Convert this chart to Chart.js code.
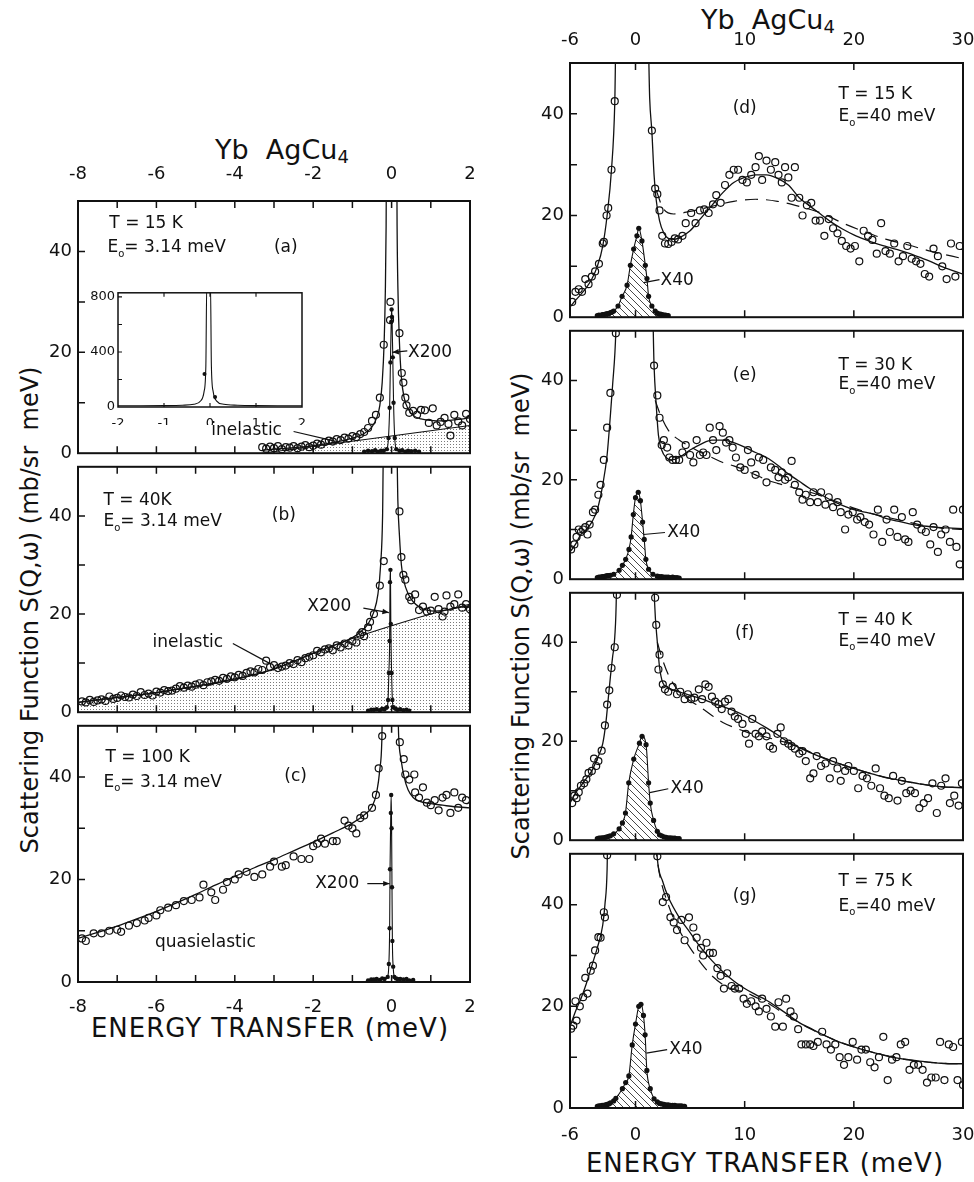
<!DOCTYPE html>
<html lang="en">
<head>
<meta charset="UTF-8">
<title>Yb AgCu4 scattering function</title>
<script src="https://cdn.jsdelivr.net/npm/chart.js"></script>
<style>
  body { margin: 0; background: #fff; }
  #fig { position: relative; width: 974px; height: 1182px; background: #fff; font-family: "DejaVu Sans", sans-serif; color: #111; overflow: hidden; }
  #fig canvas { position: absolute; }
  .lbl { position: absolute; white-space: nowrap; text-align: center; line-height: 1; }
  .lbl sub { font-size: 18px; vertical-align: -4px; }
  .ytitle { position: absolute; white-space: nowrap; font-size: 24px; line-height: 1; transform: translate(-50%, -50%) rotate(-90deg); }
</style>
</head>
<body>
<div id="fig">
  <div class="lbl" style="left:182px; top:136px; width:200px; font-size:27px;">Yb&nbsp; AgCu<sub>4</sub></div>
  <div class="lbl" style="left:668px; top:6px; width:200px; font-size:27px;">Yb&nbsp; AgCu<sub>4</sub></div>
  <div class="lbl" style="left:70px; top:1015px; width:400px; font-size:26px; letter-spacing:1px;">ENERGY TRANSFER (meV)</div>
  <div class="lbl" style="left:565px; top:1150px; width:400px; font-size:26px; letter-spacing:1px;">ENERGY TRANSFER (meV)</div>
  <div class="ytitle" style="left:30px; top:610px;">Scattering Function S(Q,ω) (mb/sr&nbsp; meV)</div>
  <div class="ytitle" style="left:521px; top:616px;">Scattering Function S(Q,ω) (mb/sr&nbsp; meV)</div>
</div>
<script>
// tick labels
const leftXLabels = [-8, -6, -4, -2, 0, 2];
const rightXLabels = [-6, 0, 10, 20, 30];
const yLabels = [0, 20, 40];
const insetXLabels = [-2, -1, 0, 1, 2];
const insetYTicks = [0, 200, 400, 600, 800];
const insetYLabels = [0, 400, 800];

// (a) T = 15 K, Eo = 3.14 meV
const obsA = [[-3.3,1.2],[-3.2,0.9],[-3.1,1.3],[-3.0,1.0],[-2.9,1.4],[-2.8,0.8],[-2.7,1.2],[-2.6,1.1],[-2.5,1.4],[-2.4,1.0],[-2.3,1.3],[-2.2,1.6],[-2.1,1.2],[-2.0,1.5],[-1.9,1.9],[-1.8,1.7],[-1.7,2.2],[-1.6,2.5],[-1.5,2.3],[-1.4,2.8],[-1.3,2.6],[-1.2,3.1],[-1.1,2.9],[-1.0,3.4],[-0.9,3.2],[-0.8,3.8],[-0.7,4.2],[-0.6,5.0],[-0.5,6.4],[-0.4,7.6],[-0.3,11.0],[-0.2,21.5],[-0.04,26.4],[-0.03,30.0],[0.2,23.8],[0.26,15.9],[0.3,14.0],[0.35,11.0],[0.38,9.5],[0.45,8.0],[0.55,8.4],[0.65,7.6],[0.75,8.6],[0.85,8.5],[0.95,6.0],[1.05,8.9],[1.15,5.5],[1.25,6.2],[1.35,7.0],[1.45,5.8],[1.5,3.5],[1.6,7.6],[1.7,6.3],[1.8,5.5],[1.9,7.8],[2.0,6.8]];
const fitA = [[-3.3,0.6],[-3,0.8],[-2.5,1.1],[-2,1.5],[-1.5,2.1],[-1,3],[-0.7,3.9],[-0.5,5.2],[-0.38,7],[-0.3,9.5],[-0.24,14],[-0.19,22],[-0.16,32],[-0.14,45],[-0.13,60],[0.13,60],[0.14,45],[0.16,33],[0.2,22],[0.25,15],[0.32,11],[0.42,8.8],[0.55,7.5],[0.75,6.8],[1,6.5],[1.3,6.4],[1.6,6.6],[2,7]];
const inelA = [[-3.3,0],[2,5.5]];
const x200A = [[-0.7,0.3],[-0.6,0.5],[-0.5,0.4],[-0.42,0.6],[-0.35,0.3],[-0.27,0.5],[-0.2,0.5],[-0.12,0.8],[-0.08,3],[-0.05,9],[-0.03,18],[-0.01,26],[0,28.5],[0.01,27],[0.03,19],[0.05,10],[0.08,3],[0.12,0.8],[0.2,0.5],[0.27,0.6],[0.35,0.3],[0.42,0.5],[0.5,0.4],[0.6,0.5],[0.7,0.3]];

// (b) T = 40 K, Eo = 3.14 meV
const obsB = [[-7.9,2.2],[-7.8,2],[-7.7,2.5],[-7.6,2.1],[-7.5,2.4],[-7.4,2.6],[-7.3,2.3],[-7.2,3.2],[-7.1,2.7],[-7.0,2.9],[-6.9,3.4],[-6.8,3.1],[-6.7,3.0],[-6.6,3.6],[-6.5,3.3],[-6.4,4.1],[-6.3,3.5],[-6.2,3.8],[-6.1,3.4],[-6.0,4.2],[-5.9,4.0],[-5.8,4.5],[-5.7,4.3],[-5.6,4.4],[-5.5,4.8],[-5.4,5.3],[-5.3,5.0],[-5.2,5.4],[-5.1,5.2],[-5.0,5.6],[-4.9,5.9],[-4.8,5.5],[-4.7,6.1],[-4.6,6.3],[-4.5,6.6],[-4.4,6.4],[-4.3,7.0],[-4.2,6.8],[-4.1,7.3],[-4.0,7.1],[-3.9,7.6],[-3.8,7.4],[-3.7,8.0],[-3.6,8.3],[-3.5,8.1],[-3.4,8.8],[-3.3,8.6],[-3.2,10.5],[-3.1,9.2],[-3.0,9.6],[-2.9,9.0],[-2.8,9.3],[-2.7,9.5],[-2.6,10.0],[-2.5,9.8],[-2.4,10.6],[-2.3,10.2],[-2.2,11.0],[-2.1,11.3],[-2.0,11.6],[-1.9,12.5],[-1.8,12.2],[-1.7,12.8],[-1.6,13.0],[-1.5,12.6],[-1.4,13.6],[-1.3,13.2],[-1.2,14.0],[-1.1,13.6],[-1.0,14.5],[-0.9,14.2],[-0.8,15.8],[-0.75,16.3],[-0.7,15.5],[-0.6,17.3],[-0.55,18.4],[-0.45,20],[-0.3,25.8],[-0.2,30.8],[0.2,40.9],[0.25,31.6],[0.3,28],[0.35,27],[0.45,23.5],[0.5,22.8],[0.6,24],[0.7,20.8],[0.8,21.5],[0.9,20.5],[1.0,20.7],[1.1,23.5],[1.2,21],[1.3,19.5],[1.35,20.5],[1.4,23.8],[1.5,21.5],[1.6,22],[1.7,24],[1.8,21.3],[1.9,22],[2.0,21]];
const fitB = [[-8,2],[-7,3],[-6,4],[-5,5.3],[-4,6.8],[-3,8.8],[-2,12],[-1.5,13.5],[-1,15.2],[-0.8,16.3],[-0.6,18],[-0.45,20.5],[-0.35,24],[-0.28,30],[-0.23,40],[-0.2,60],[0.12,60],[0.16,43],[0.2,36],[0.25,30],[0.32,26.5],[0.42,24.2],[0.55,22.5],[0.7,21.5],[0.9,20.8],[1.1,20.6],[1.3,20.7],[1.5,21],[1.7,21.3],[2,21.7]];
const inelB = [[-8,2],[-7,3],[-6,4],[-5,5.3],[-4,6.6],[-3,8.8],[-2,12],[-1,15],[0,17.6],[1,20],[2,22]];
const x200B = [[-0.6,0.3],[-0.52,0.5],[-0.45,0.5],[-0.38,0.6],[-0.3,0.4],[-0.24,0.7],[-0.18,0.6],[-0.12,1],[-0.09,2.5],[-0.07,8],[-0.05,14.5],[-0.04,26.5],[-0.03,29],[-0.02,18],[0,8],[0.02,2.5],[0.05,1],[0.1,0.7],[0.15,0.5],[0.22,0.6],[0.3,0.4],[0.38,0.5],[0.45,0.3]];

// (c) T = 100 K, Eo = 3.14 meV
const obsC = [[-7.9,8.5],[-7.8,8],[-7.6,9.5],[-7.4,9.5],[-7.2,10],[-7,10.2],[-6.9,9.8],[-6.7,11],[-6.5,11.5],[-6.3,12],[-6.2,12.5],[-6,13],[-5.9,14],[-5.7,14.5],[-5.5,15],[-5.3,15.8],[-5.1,16],[-4.9,16.5],[-4.8,19],[-4.6,17.5],[-4.5,16],[-4.3,18],[-4.2,19.5],[-4,20],[-3.9,21],[-3.7,21.5],[-3.5,20.5],[-3.3,21],[-3.1,22.5],[-3,23.5],[-2.8,22.5],[-2.7,22.8],[-2.5,24.5],[-2.3,24],[-2.1,24],[-2,26.5],[-1.9,27],[-1.8,28],[-1.7,27],[-1.5,27.5],[-1.4,27.5],[-1.2,31.5],[-1.1,30.5],[-1,30],[-0.9,29],[-0.8,32],[-0.7,32.5],[-0.5,34],[-0.4,36.5],[-0.33,41.7],[-0.24,48],[0.21,46.8],[0.31,43.5],[0.35,40.5],[0.45,39.5],[0.58,40.5],[0.6,37],[0.7,36],[0.8,38],[0.9,35],[1.0,34.5],[1.1,35.5],[1.2,33.5],[1.3,36],[1.4,36.5],[1.5,33],[1.6,37],[1.7,34],[1.8,36],[1.9,35.5]];
const fitC = [[-8,8.5],[-7.5,9.7],[-7,10.9],[-6.5,12.3],[-6,13.8],[-5.5,15.4],[-5,17.1],[-4.5,18.9],[-4,20.6],[-3.5,22.3],[-3,23.9],[-2.5,25.6],[-2,27.3],[-1.5,29.1],[-1,31],[-0.7,32.6],[-0.5,34.2],[-0.38,37],[-0.3,41.5],[-0.25,47],[-0.22,60],[0.14,60],[0.18,48],[0.24,43.5],[0.32,40],[0.42,37.5],[0.55,36],[0.7,35.3],[1,34.8],[1.3,34.5],[1.6,34.2],[2,34]];
const x200C = [[-0.6,0.3],[-0.52,0.5],[-0.45,0.5],[-0.38,0.6],[-0.3,0.4],[-0.24,0.7],[-0.18,0.6],[-0.1,1],[-0.07,3.5],[-0.05,10.5],[-0.04,22],[-0.02,33],[-0.01,36.5],[0,30],[0.01,18.5],[0.02,8],[0.04,3],[0.07,1],[0.11,0.7],[0.15,0.6],[0.22,0.6],[0.3,0.5],[0.38,0.6],[0.45,0.3],[0.55,0.4]];

// (d) T = 15 K, Eo = 40 meV
const obsD = [[-5.8,3],[-5.5,5],[-5.2,5.5],[-4.9,5],[-4.6,7.5],[-4.3,6.5],[-4.0,8],[-3.7,9],[-3.35,10.5],[-3.0,14.5],[-2.9,14.8],[-2.65,20],[-2.5,21.5],[-2.2,29],[-1.9,42.5],[1.5,36.7],[1.8,25.3],[2.0,24.2],[2.2,21],[2.45,16],[2.7,14.5],[3.0,14.4],[3.3,14.8],[3.6,15.5],[3.9,15.3],[4.3,16],[4.6,18.5],[5.1,20.5],[5.5,18.5],[5.9,21],[6.3,21.2],[6.7,20.5],[7.1,22.2],[7.4,24],[7.8,22.5],[8.2,26],[8.6,28],[9.0,29],[9.4,29],[9.8,27],[10.2,26.5],[10.6,28],[11.0,29.5],[11.3,31.7],[11.6,27],[12.0,30.8],[12.4,29],[12.8,30.5],[13.1,28],[13.4,26.5],[13.7,29.5],[14.0,27.5],[14.3,23.5],[14.6,29.5],[15.0,23.5],[15.3,20],[15.7,22],[16.1,22.5],[16.5,19],[16.9,19],[17.3,16],[17.7,19.3],[18.1,17.5],[18.5,16.5],[18.9,15],[19.3,14],[19.7,13.5],[20.1,14],[20.5,11],[20.9,17],[21.3,16],[21.7,15.2],[22.1,12.5],[22.5,18.5],[22.9,13],[23.3,12.5],[23.7,14.5],[24.1,11],[24.5,12],[24.9,14],[25.3,11.5],[25.7,11],[26.1,10.5],[26.5,8.5],[26.9,8],[27.3,13.5],[27.7,12],[28.1,10],[28.5,7.5],[28.9,14.5],[29.3,8],[29.7,14]];
const fitD = [[-6,2],[-5.5,3.3],[-5,4.5],[-4.5,5.8],[-4,7.5],[-3.5,10],[-3,14],[-2.6,20],[-2.2,29],[-1.9,42],[-1.75,60],[1.1,60],[1.3,43],[1.5,36.5],[1.7,28],[1.9,23],[2.2,19],[2.6,16.5],[3,15.5],[3.5,15.3],[4,15.6],[5,17],[6,19.5],[7,22],[8,24.5],[9,26.5],[10,27.5],[11,28],[12,28],[13,27.3],[14,26],[15,23.5],[16,21.8],[17,20.2],[18,18.6],[19,17.3],[20,16.2],[21,15.3],[22,14.5],[23,13.9],[24,13.3],[25,12.6],[26,11.8],[27,11],[28,10],[29,9.2],[30,8.5]];
const dashD = [[1.9,25],[2.5,21.5],[3.5,20.3],[5,20.8],[7,21.8],[9,22.8],[11,23.2],[13,22.8],[15,21.8],[17,20.5],[19,18.5],[21,16.8],[23,15.3],[25,14.2],[27,13],[29,12],[30,11.5]];
const x40D = [[-3.5,0.3],[-3.35,0.4],[-3.2,0.3],[-3.05,0.5],[-2.9,0.5],[-2.75,0.6],[-2.6,0.7],[-2.45,0.7],[-2.3,0.9],[-2.15,1],[-2,1.2],[-1.6,2.2],[-1.23,4.1],[-0.77,6.3],[-0.47,10.2],[-0.17,13.4],[0.13,16],[0.3,17.5],[0.59,15],[0.9,10.2],[1.05,7.6],[1.2,4.1],[1.5,2.2],[1.8,1.2],[2.0,0.8],[2.15,0.6],[2.3,0.6],[2.45,0.5],[2.6,0.4],[2.75,0.4],[2.9,0.3],[3,0.3]];

// (e) T = 30 K, Eo = 40 meV
const obsE = [[-5.9,6],[-5.6,7],[-5.4,8.5],[-5.2,10],[-5.0,9.5],[-4.8,10],[-4.6,10.5],[-4.4,9],[-4.2,11],[-3.9,13.5],[-3.7,14],[-3.4,17],[-3.2,19],[-2.9,24],[-2.6,30.5],[-2.3,37.5],[-1.8,49.5],[1.7,43],[2.0,37],[2.2,32.5],[2.4,27],[2.6,28],[2.9,26.5],[3.1,24.5],[3.4,24],[3.7,24],[4.0,24],[4.3,25.5],[4.6,27],[5.0,25],[5.3,23.5],[5.6,28],[5.9,25],[6.2,25.5],[6.5,25],[6.8,30.5],[7.1,28],[7.4,26],[7.7,30.8],[8.0,29.5],[8.3,27.5],[8.6,28],[8.9,26.5],[9.2,24.5],[9.6,22.5],[10.0,22],[10.3,26],[10.6,23.5],[11.0,21],[11.3,24.5],[11.7,24],[12.0,19.5],[12.4,22.5],[12.8,22],[13.1,20.5],[13.4,21.5],[13.7,20],[14.0,20.5],[14.3,23.8],[14.6,19],[15.0,17.5],[15.3,16],[15.6,17],[16.0,15.5],[16.3,17.5],[16.7,15.5],[17.0,17.5],[17.4,15],[17.7,16.5],[18.1,14.5],[18.5,15.5],[18.8,13.5],[19.2,10],[19.5,13],[19.9,13.5],[20.3,12],[20.6,12.5],[21.0,11.5],[21.4,11],[21.8,9],[22.2,14],[22.6,7.5],[23.0,12],[23.3,9.5],[23.7,14],[24.0,8.5],[24.4,12.5],[24.7,8],[25.0,7.5],[25.4,13.5],[25.8,11],[26.2,10],[26.6,9.5],[27.0,7],[27.3,10.5],[27.7,5.5],[28.0,9],[28.4,10],[28.8,7.5],[29.1,14],[29.4,6.5],[29.7,3],[30.0,14]];
const fitE = [[-6,5.5],[-5.5,7],[-5,9],[-4.5,10],[-4,11.5],[-3.5,14],[-3,19],[-2.6,25],[-2.3,33],[-2.1,39],[-1.8,50],[-1.7,60],[1.5,60],[1.7,43],[1.9,35],[2.1,29],[2.4,26],[2.8,24.5],[3.3,24],[4,24.5],[5,26],[6,27.2],[7,28],[8,28],[9,27.5],[10,26.6],[11,25.5],[12,24.5],[13,23],[14,21.2],[15,19.7],[16,18.2],[17,17],[18,15.8],[19,14.8],[20,14],[21,13.5],[22,13],[23,12.2],[24,11.7],[25,11.2],[26,10.8],[27,10.6],[28,10.4],[29,10.3],[30,10.2]];
const dashE = [[1.8,36],[2.3,33],[3,30],[4,28],[5,26.7],[6,25.5],[7,24.5],[8,23.5],[9,22.8],[10,22],[11,21],[12,20],[13,19.3],[14,18.7],[16,17.5],[18,16],[20,14.3],[22,13],[24,12],[26,11],[28,10.3],[30,10]];
const x40E = [[-3.5,0.3],[-3.35,0.4],[-3.2,0.4],[-3.05,0.5],[-2.9,0.5],[-2.75,0.6],[-2.6,0.7],[-2.45,0.7],[-2.3,0.8],[-2,1],[-1.5,1.8],[-1.2,2.8],[-0.9,4],[-0.6,6],[-0.4,8.5],[-0.2,13],[0,16.4],[0.25,17.5],[0.45,15.8],[0.65,11.5],[0.8,8],[0.95,4],[1.2,2],[1.6,1],[2,0.6],[2.2,0.5],[2.4,0.5],[2.6,0.4],[2.8,0.4],[3,0.4],[3.2,0.3],[3.4,0.4],[3.6,0.3],[3.8,0.3],[4,0.2]];

// (f) T = 40 K, Eo = 40 meV
const obsF = [[-5.8,7.5],[-5.6,9],[-5.4,8.5],[-5.2,9.7],[-5.0,11],[-4.7,11.5],[-4.5,12.3],[-4.3,13.6],[-4.0,14],[-3.8,16.5],[-3.6,15],[-3.4,16],[-3.1,18.1],[-2.8,23.2],[-2.6,27.4],[-2.4,30.3],[-2.2,34.8],[-1.9,39],[-1.7,49.6],[1.8,49],[1.9,43.5],[2.2,37.5],[2.1,34.5],[2.5,31.5],[2.7,30.5],[3.0,30],[3.4,31],[3.8,29.5],[4.1,30],[4.5,28.5],[4.8,29.5],[5.1,28.5],[5.4,28.8],[5.8,30.5],[6.1,28.5],[6.4,31.5],[6.7,31],[7.0,29],[7.3,28],[7.6,27.5],[7.9,26.5],[8.2,28],[8.5,28.5],[8.8,26],[9.1,25],[9.4,24.5],[9.8,23.5],[10.1,21.5],[10.4,19.5],[10.7,24.5],[11.0,21.5],[11.3,21],[11.6,22],[12.0,21],[12.3,19],[12.6,18.5],[13.0,21.5],[13.3,22.8],[13.6,20],[14.0,19.5],[14.3,19],[14.6,18.5],[15.0,17.5],[15.3,18],[15.6,16],[16.0,12.5],[16.3,13.5],[16.6,17],[17.0,15],[17.4,15.5],[17.8,12.5],[18.1,16],[18.5,14.5],[18.8,12],[19.2,14],[19.5,15],[20.0,14],[20.4,10.5],[20.8,13],[21.2,12.5],[21.6,11],[22.0,14.5],[22.4,10.5],[22.8,9],[23.2,8.5],[23.6,13],[24.0,8],[24.4,12],[24.8,9.5],[25.2,10],[25.6,9.5],[26.0,6.5],[26.4,7.5],[26.8,8.5],[27.2,11.5],[27.6,5.5],[28.0,11],[28.4,12.5],[28.8,7.5],[29.2,9],[29.6,7],[29.9,11.5]];
const fitF = [[-6,7.5],[-5.5,9.5],[-5,11],[-4.5,12.5],[-4,14],[-3.5,16.5],[-3,19.5],[-2.7,24],[-2.5,28.5],[-2.3,33],[-2.1,37],[-1.9,41],[-1.75,50],[-1.7,60],[1.6,60],[1.75,48],[2,40],[2.2,35],[2.5,31.8],[3,30.8],[4,30],[5,29.3],[6,28.6],[7,27.8],[8,27],[9,26.2],[10,25.2],[11,24],[12,22.7],[13,21.3],[14,19.8],[15,18.7],[16,17.7],[17,16.8],[18,16],[19,15.2],[20,14.5],[21,13.8],[22,13.2],[23,12.6],[24,12.2],[25,11.8],[26,11.4],[27,11.1],[28,10.8],[29,10.7],[30,10.6]];
const dashF = [[2,40],[2.4,37],[3,33.5],[4,30],[5,28.2],[6,26.8],[7,25.2],[8,23.8],[9,22.8],[10,22],[11,21.3],[12,20.8],[13,20.2],[14,19.6],[15,18.8],[16,17.8],[18,16],[20,14.5],[22,13.2],[24,12.2],[26,11.4],[28,10.8],[30,10.6]];
const x40F = [[-3.5,0.3],[-3.35,0.4],[-3.2,0.4],[-3.05,0.5],[-2.9,0.5],[-2.75,0.6],[-2.6,0.7],[-2.45,0.8],[-2.3,0.9],[-2,1.3],[-1.5,2.3],[-1.2,3.5],[-0.92,5.5],[-0.62,11.6],[-0.16,16.4],[0.36,19.6],[0.6,21],[0.97,19.3],[1.2,11.6],[1.35,7.5],[1.66,4],[2,1.8],[2.2,1.1],[2.4,0.9],[2.6,0.7],[2.8,0.6],[3,0.5],[3.2,0.5],[3.4,0.4],[3.6,0.4],[3.8,0.3],[4,0.3]];

// (g) T = 75 K, Eo = 40 meV
const obsG = [[-5.9,15.6],[-5.7,16.2],[-5.5,21],[-5.4,17.2],[-5.1,20],[-4.8,21.8],[-4.6,25.6],[-4.4,22.5],[-4.1,27],[-3.9,28],[-3.7,31],[-3.4,33.6],[-3.2,33.5],[-2.9,38.5],[-2.8,37.5],[-2.6,49.7],[2.0,49.5],[2.5,40.5],[2.8,41.5],[3.2,37.5],[3.5,36.5],[3.8,35],[4.2,37],[4.5,33],[4.9,37.5],[5.3,35.5],[5.6,33.5],[6.0,31.5],[6.2,30],[6.5,32.5],[6.8,30.5],[7.1,30.5],[7.5,27.5],[7.8,26],[8.1,23.5],[8.4,26.5],[8.8,24],[9.1,23.5],[9.5,23.5],[9.9,21.5],[10.2,20.5],[10.6,21],[11.0,20],[11.3,19],[11.6,21.5],[12.0,19.5],[12.4,18],[12.8,16],[13.1,20.8],[13.5,16],[13.8,21.5],[14.2,19],[14.5,18],[14.9,15.5],[15.2,12.5],[15.6,12.5],[16.0,12.5],[16.3,12.2],[16.7,13],[17.1,15],[17.5,12.5],[17.9,11.5],[18.3,12.5],[18.7,10],[19.1,8.5],[19.5,10],[19.9,13],[20.3,9.5],[20.7,11.5],[21.1,11.5],[21.5,9],[21.9,8],[22.3,10],[22.7,14],[23.1,5.5],[23.5,9.5],[23.9,10],[24.3,12.5],[24.7,13],[25.1,7.5],[25.5,8.5],[25.9,8.5],[26.3,7.5],[26.7,5],[27.1,6],[27.5,6],[27.9,13],[28.3,5.5],[28.7,12.5],[29.1,12],[29.5,5.5],[29.9,13],[30.0,4.5]];
const fitG = [[-6,16],[-5.5,19],[-5,21.5],[-4.5,24.5],[-4,28],[-3.5,31.5],[-3,36],[-2.8,40],[-2.6,47],[-2.5,60],[1.7,60],[2,49],[2.5,44.5],[3,41.5],[4,37.5],[5,34.5],[6,31.5],[7,29],[8,26.8],[9,25],[10,23.5],[11,22.3],[12,21.2],[13,19.8],[14,18.3],[15,16.8],[16,15.7],[17,14.6],[18,13.6],[19,12.7],[20,12],[21,11.4],[22,10.8],[23,10.3],[24,9.8],[25,9.5],[26,9.2],[27,9],[28,8.8],[29,8.7],[30,8.7]];
const dashG = [[1.8,52],[2.2,46],[3,40],[4,35],[5,31.5],[6,28.5],[7,26],[8,24.3],[9,23.3],[10,22.8],[11,21.8],[12,20.8],[14,18],[16,15.6],[18,13.6],[20,12],[22,10.8],[24,9.8],[26,9.2],[28,8.8],[30,8.7]];
const x40G = [[-3.5,0.3],[-3.35,0.4],[-3.2,0.4],[-3.05,0.5],[-2.9,0.5],[-2.75,0.6],[-2.6,0.7],[-2.45,0.8],[-2.3,1],[-2,1.4],[-1.8,1.9],[-1.2,3.8],[-0.9,5],[-0.61,6.3],[-0.3,12.4],[0,16.5],[0.3,20],[0.5,20.4],[0.73,18.2],[0.88,14.4],[1.04,7.4],[1.35,3.8],[1.7,1.8],[2,1.2],[2.2,0.9],[2.4,0.8],[2.6,0.7],[2.8,0.6],[3,0.6],[3.2,0.5],[3.4,0.5],[3.6,0.5],[3.8,0.4],[4,0.4],[4.2,0.4],[4.4,0.3],[4.5,0.3]];

// inset of (a): full elastic peak
const insetCurve = [[-2,9],[-1.5,9],[-1,10],[-0.6,13],[-0.35,20],[-0.2,45],[-0.13,110],[-0.09,300],[-0.07,900],[0.01,900],[0.03,300],[0.07,110],[0.14,45],[0.3,20],[0.6,13],[1,10],[1.5,9],[2,9]];
const insetDots = [[-0.12,240],[0.11,73]];

Chart.defaults.font.family = '"DejaVu Sans", sans-serif';
Chart.defaults.color = '#111';

const fig = document.getElementById('fig');
const INK = '#111';

function makePattern(size, draw) {
  const c = document.createElement('canvas');
  c.width = c.height = size;
  draw(c.getContext('2d'), size);
  return c.getContext('2d').createPattern(c, 'repeat');
}
const stipple = makePattern(3, g => { g.fillStyle = '#7a7a7a'; g.fillRect(1, 1, 1, 1); });
const hatch = makePattern(7, (g, s) => {
  g.strokeStyle = '#333'; g.lineWidth = 0.9;
  g.beginPath(); g.moveTo(-1, -1); g.lineTo(s + 1, s + 1); g.stroke();
});

const pts = arr => arr.map(([x, y]) => ({x, y}));

function openPts(arr) {
  return {type: 'scatter', data: pts(arr), showLine: false, pointRadius: 3.5,
    pointBorderWidth: 1.2, pointBorderColor: INK, pointBackgroundColor: 'rgba(0,0,0,0)'};
}
function curve(arr, extra) {
  return Object.assign({type: 'line', data: pts(arr), borderColor: INK, borderWidth: 1.3,
    pointRadius: 0, fill: false, cubicInterpolationMode: 'monotone'}, extra || {});
}
function peak(arr, fillBg, r) {
  return curve(arr, {pointRadius: r, pointBackgroundColor: INK, pointBorderColor: INK,
    pointBorderWidth: 0, borderWidth: 1.1, fill: fillBg ? 'origin' : false,
    backgroundColor: fillBg || 'rgba(0,0,0,0)'});
}

// box frame + inward tick marks
const frame = {
  id: 'frame',
  afterDatasetsDraw(chart, args, o) {
    const {ctx, chartArea: a, scales: {x, y}} = chart;
    ctx.save();
    ctx.strokeStyle = INK;
    ctx.lineWidth = o.lw;
    ctx.strokeRect(a.left, a.top, a.right - a.left, a.bottom - a.top);
    ctx.lineWidth = o.lw * 0.75;
    ctx.beginPath();
    x.ticks.forEach(t => {
      if (t.value <= x.min || t.value >= x.max) return;
      const px = x.getPixelForValue(t.value);
      ctx.moveTo(px, a.bottom); ctx.lineTo(px, a.bottom - o.len);
      ctx.moveTo(px, a.top); ctx.lineTo(px, a.top + o.len);
    });
    y.ticks.forEach(t => {
      if (t.value <= y.min || t.value >= y.max) return;
      const py = y.getPixelForValue(t.value);
      ctx.moveTo(a.left, py); ctx.lineTo(a.left + o.len, py);
    });
    ctx.stroke();
    ctx.restore();
  }
};

// text labels and leader lines placed in data units
const notes = {
  id: 'notes',
  afterDatasetsDraw(chart, args, o) {
    const {ctx, scales: {x, y}} = chart;
    ctx.save();
    ctx.strokeStyle = INK; ctx.fillStyle = INK; ctx.lineWidth = 1.2;
    (o.lines || []).forEach(l => {
      const p = l.p.map(([u, v]) => [x.getPixelForValue(u), y.getPixelForValue(v)]);
      ctx.beginPath(); ctx.moveTo(p[0][0], p[0][1]); ctx.lineTo(p[1][0], p[1][1]); ctx.stroke();
      if (l.arrow) {
        const ang = Math.atan2(p[1][1] - p[0][1], p[1][0] - p[0][0]);
        ctx.beginPath();
        ctx.moveTo(p[1][0], p[1][1]);
        ctx.lineTo(p[1][0] - 7 * Math.cos(ang - 0.4), p[1][1] - 7 * Math.sin(ang - 0.4));
        ctx.lineTo(p[1][0] - 7 * Math.cos(ang + 0.4), p[1][1] - 7 * Math.sin(ang + 0.4));
        ctx.closePath(); ctx.fill();
      }
    });
    const size = o.size || 17;
    (o.texts || []).forEach(t => {
      // "_" marks a one-letter subscript
      const segs = [];
      t.s.split('_').forEach((part, i) => {
        if (i === 0) { segs.push({s: part, sub: false}); return; }
        segs.push({s: part[0], sub: true});
        segs.push({s: part.slice(1), sub: false});
      });
      const fontOf = sub => (sub ? Math.round(size * 0.6) : size) + 'px "DejaVu Sans", sans-serif';
      let w = 0;
      segs.forEach(sg => { ctx.font = fontOf(sg.sub); sg.w = ctx.measureText(sg.s).width; w += sg.w; });
      let px = x.getPixelForValue(t.x);
      const py = y.getPixelForValue(t.y);
      if (t.align === 'center') px -= w / 2;
      ctx.textBaseline = 'middle'; ctx.textAlign = 'left';
      segs.forEach(sg => {
        ctx.font = fontOf(sg.sub);
        ctx.fillText(sg.s, px, sg.sub ? py + size * 0.38 : py);
        px += sg.w;
      });
    });
    ctx.restore();
  }
};

function panel(box, cfg) {
  const [l, t, r, b] = box;
  const padL = cfg.padL || 70, padR = 22;
  const padT = cfg.padT, padB = cfg.padB;
  const W = r - l + padL + padR, H = b - t + padT + padB;
  const cv = document.createElement('canvas');
  cv.width = W; cv.height = H;
  cv.style.left = (l - padL) + 'px'; cv.style.top = (t - padT) + 'px';
  cv.style.width = W + 'px'; cv.style.height = H + 'px';
  fig.appendChild(cv);
  const fs = cfg.fontSize || 18;
  const xTicks = (show, pad) => ({display: show, stepSize: cfg.xStep, autoSkip: false, maxRotation: 0,
    padding: pad, color: INK, font: {size: fs},
    callback: v => cfg.xLabels.includes(v) ? String(v) : ''});
  const yTickVals = cfg.yTicks || [0, 10, 20, 30, 40, 50];
  return new Chart(cv, {
    type: 'scatter',
    data: {datasets: cfg.datasets},
    options: {
      responsive: false, animation: false, events: [],
      layout: {autoPadding: false, padding: {left: 0, right: padR, top: 0, bottom: 0}},
      plugins: {legend: {display: false}, tooltip: {enabled: false},
        frame: {lw: cfg.lw || 2, len: cfg.tickLen || 7}, notes: cfg.notes || {}},
      scales: {
        x: {type: 'linear', position: 'bottom', min: cfg.xMin, max: cfg.xMax,
          grid: {display: false}, border: {display: false},
          ticks: xTicks(!!cfg.bottomLabels, cfg.bPad || 7),
          afterFit: s => { s.height = padB; }},
        xt: {type: 'linear', position: 'top', min: cfg.xMin, max: cfg.xMax,
          grid: {display: false}, border: {display: false},
          ticks: xTicks(!!cfg.topLabels, cfg.tPad || 7),
          afterFit: s => { s.height = padT; }},
        y: {type: 'linear', position: 'left', min: 0, max: cfg.yMax || 50,
          grid: {display: false, drawTicks: false}, border: {display: false},
          ticks: {autoSkip: false, padding: cfg.yPad || 6, color: INK, font: {size: fs},
            callback: v => (cfg.yLabels || yLabels).includes(v) ? String(v) : ''},
          afterBuildTicks: s => { s.ticks = yTickVals.map(v => ({value: v})); },
          afterFit: s => { s.width = padL; }}
      }
    },
    plugins: [frame, notes]
  });
}

const leftAxis = {xMin: -8, xMax: 2, xStep: 1, xLabels: leftXLabels};
const rightAxis = {xMin: -6, xMax: 30, xStep: 10, xLabels: rightXLabels};

panel([78, 201, 470, 460], Object.assign({}, leftAxis, {
  topLabels: true, padT: 40, padB: 10, tPad: 8,
  datasets: [openPts(obsA), peak(x200A, null, 2.2), curve(fitA),
    curve(inelA, {borderWidth: 1.1, fill: 'origin', backgroundColor: stipple, cubicInterpolationMode: 'default'})],
  notes: {texts: [{x: -7.2, y: 45.5, s: 'T = 15 K'}, {x: -7.25, y: 40.7, s: 'E_o= 3.14 meV'},
      {x: -2.7, y: 40.7, s: '(a)', align: 'center'}, {x: 0.42, y: 20, s: 'X200'},
      {x: -4.6, y: 4.4, s: 'inelastic'}],
    lines: [{p: [[0.4, 20.3], [0.02, 20]], arrow: true}, {p: [[-2.5, 4.3], [-1.45, 2.4]]}]}
}));

panel([118, 286, 302, 407], {
  xMin: -2, xMax: 2, xStep: 1, xLabels: insetXLabels, yMax: 830, yTicks: insetYTicks, yLabels: insetYLabels,
  padL: 38, padT: 4, padB: 18, bPad: 1, yPad: 3, bottomLabels: true, fontSize: 13, lw: 1.5, tickLen: 4,
  datasets: [peak(insetCurve, null, 0),
    {type: 'scatter', data: pts(insetDots), pointRadius: 2, pointBackgroundColor: INK, pointBorderWidth: 0}]
});

panel([78, 460, 470, 719], Object.assign({}, leftAxis, {
  padT: 10, padB: 10,
  datasets: [openPts(obsB), peak(x200B, null, 2.2), curve(fitB),
    curve(inelB, {borderWidth: 1.1, fill: 'origin', backgroundColor: stipple})],
  notes: {texts: [{x: -7.35, y: 43.2, s: 'T = 40K'}, {x: -7.35, y: 38.8, s: 'E_o= 3.14 meV'},
      {x: -2.75, y: 40, s: '(b)', align: 'center'}, {x: -2.15, y: 21.5, s: 'X200'},
      {x: -6.1, y: 14.1, s: 'inelastic'}],
    lines: [{p: [[-0.72, 21.2], [-0.07, 20.3]], arrow: true}, {p: [[-4.05, 14], [-3.1, 9.9]]}]}
}));

panel([78, 719, 470, 982], Object.assign({}, leftAxis, {
  bottomLabels: true, padT: 10, padB: 40, bPad: 7,
  datasets: [openPts(obsC), peak(x200C, null, 2.2), curve(fitC)],
  notes: {texts: [{x: -7.3, y: 43.8, s: 'T = 100 K'}, {x: -7.35, y: 39, s: 'E_o= 3.14 meV'},
      {x: -2.45, y: 40, s: '(c)', align: 'center'}, {x: -1.95, y: 19.2, s: 'X200'},
      {x: -4.75, y: 7.7, s: 'quasielastic', align: 'center'}],
    lines: [{p: [[-0.62, 19.2], [-0.05, 19.2]], arrow: true}]}
}));

const rightPanels = [
  {box: [570, 63, 963, 324], obs: obsD, fit: fitD, dash: dashD, x40: x40D, T: 'T = 15 K', tag: '(d)',
    ty: [43.8, 39.4, 41], x40t: [2.3, 7.3], x40l: [[2.2, 7.4], [0.75, 6.8]], top: true},
  {box: [570, 324, 963, 586], obs: obsE, fit: fitE, dash: dashE, x40: x40E, T: 'T = 30 K', tag: '(e)',
    ty: [43, 39.2, 41], x40t: [2.9, 9.4], x40l: [[2.7, 9.4], [0.72, 9]]},
  {box: [570, 586, 963, 847], obs: obsF, fit: fitF, dash: dashF, x40: x40F, T: 'T = 40 K', tag: '(f)',
    ty: [44.3, 40.2, 41.7], x40t: [3.2, 10.4], x40l: [[3.0, 10.4], [1.3, 9.6]]},
  {box: [570, 847, 963, 1108], obs: obsG, fit: fitG, dash: dashG, x40: x40G, T: 'T = 75 K', tag: '(g)',
    ty: [44.5, 39.7, 41.6], x40t: [3.1, 11.5], x40l: [[2.9, 11.5], [1.0, 10.8]], bottom: true}
];
rightPanels.forEach(p => {
  panel(p.box, Object.assign({}, rightAxis, {
    topLabels: !!p.top, bottomLabels: !!p.bottom,
    padT: p.top ? 36 : 10, padB: p.bottom ? 40 : 10, tPad: 4, bPad: 9,
    datasets: [openPts(p.obs), peak(p.x40, hatch, 2.6), curve(p.fit),
      curve(p.dash, {borderDash: [13, 8], borderWidth: 1.2})],
    notes: {texts: [{x: 18.6, y: p.ty[0], s: p.T}, {x: 18.6, y: p.ty[1], s: 'E_o=40 meV'},
        {x: 10, y: p.ty[2], s: p.tag, align: 'center'}, {x: p.x40t[0], y: p.x40t[1], s: 'X40'}],
      lines: [{p: p.x40l}]}
  }));
});
</script>
</body>
</html>
